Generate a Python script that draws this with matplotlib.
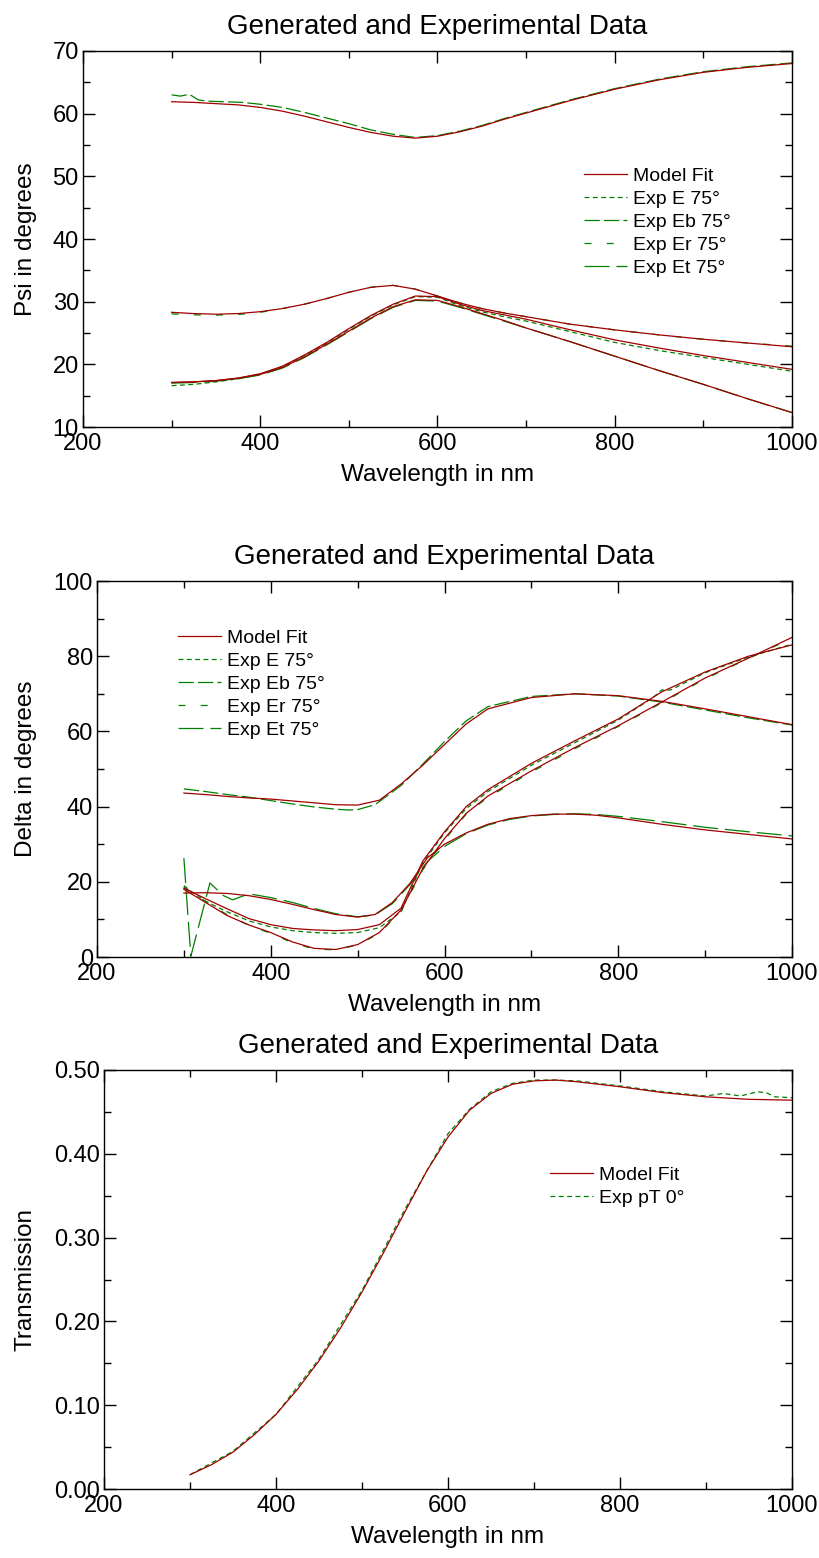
import matplotlib
matplotlib.use("Agg")
import matplotlib.pyplot as plt
from matplotlib.ticker import MultipleLocator, FormatStrFormatter

plt.rcParams["font.family"] = ["Liberation Sans", "DejaVu Sans"]
plt.rcParams["lines.scale_dashes"] = False

# ---- Psi panel ----
wl_psi = [300, 325, 350, 375, 400, 425, 450, 475, 500, 525, 550, 575, 600, 625, 650, 675, 700, 750, 800, 850, 900, 950, 1000]
psi_fit_a = [61.9, 61.8, 61.6, 61.4, 61.0, 60.4, 59.6, 58.7, 57.8, 57.0, 56.4, 56.1, 56.4, 57.1, 58.0, 59.1, 60.1, 62.1, 63.9, 65.4, 66.6, 67.4, 68.0]
psi_fit_b = [28.3, 28.1, 28.0, 28.1, 28.4, 28.9, 29.6, 30.5, 31.5, 32.3, 32.6, 32.0, 30.9, 29.8, 28.9, 28.2, 27.6, 26.4, 25.5, 24.7, 24.0, 23.4, 22.8]
psi_fit_c = [17.1, 17.2, 17.4, 17.8, 18.5, 19.7, 21.5, 23.5, 25.7, 27.8, 29.6, 30.9, 30.8, 29.6, 28.6, 27.9, 27.2, 25.5, 23.9, 22.6, 21.4, 20.3, 19.2]
psi_fit_d = [17.1, 17.2, 17.4, 17.8, 18.4, 19.5, 21.2, 23.2, 25.3, 27.4, 29.2, 30.3, 30.2, 29.2, 28.1, 27.0, 25.8, 23.6, 21.3, 19.0, 16.8, 14.5, 12.3]

wl_psi_exp_a = [300, 310, 320, 330, 340, 360, 380, 400, 425, 450, 475, 500, 525, 550, 575, 600, 625, 650, 675, 700, 750, 800, 850, 900, 950, 1000]
psi_exp_a = [63.0, 62.8, 63.1, 62.2, 62.0, 61.9, 61.8, 61.5, 61.0, 60.2, 59.3, 58.4, 57.4, 56.7, 56.2, 56.5, 57.2, 58.1, 59.2, 60.2, 62.2, 64.0, 65.5, 66.7, 67.5, 68.1]
psi_exp_b = [28.05, 27.9, 27.85, 27.95, 28.3, 28.9, 29.6, 30.5, 31.5, 32.3, 32.6, 32.0, 30.9, 29.8, 28.9, 28.2, 27.6, 26.4, 25.5, 24.7, 24.0, 23.4, 22.9]
psi_exp_c = [16.6, 16.8, 17.2, 17.7, 18.4, 19.6, 21.4, 23.4, 25.6, 27.7, 29.5, 30.8, 30.7, 29.4, 28.4, 27.6, 26.9, 25.2, 23.5, 22.2, 21.1, 20.0, 18.9]
psi_exp_d = [17.0, 17.1, 17.3, 17.7, 18.3, 19.4, 21.1, 23.1, 25.2, 27.3, 29.1, 30.2, 30.1, 29.1, 28.0, 26.9, 25.8, 23.6, 21.3, 19.0, 16.8, 14.5, 12.3]

# ---- Delta panel ----
wl_del = [300, 325, 350, 375, 400, 425, 450, 475, 500, 525, 550, 575, 600, 625, 650, 700, 750, 800, 850, 900, 950, 1000]
del_fit_a = [43.6, 43.2, 42.7, 42.3, 42.0, 41.5, 41.0, 40.5, 40.4, 41.7, 46.0, 51.0, 56.5, 62.0, 66.0, 69.0, 70.0, 69.5, 68.0, 66.0, 63.9, 61.8]
del_fit_c = [18.3, 15.5, 12.8, 10.2, 8.6, 7.6, 7.2, 7.0, 7.3, 8.6, 13.0, 25.5, 33.3, 40.0, 44.5, 51.5, 57.5, 63.3, 70.5, 75.8, 80.0, 83.0]
del_fit_d = [18.0, 14.5, 11.0, 8.5, 6.5, 4.0, 2.3, 2.0, 3.3, 6.5, 12.5, 23.5, 31.5, 38.2, 42.8, 49.5, 55.7, 61.5, 67.8, 74.2, 79.5, 85.0]
wl_del_b = [300, 325, 350, 375, 400, 425, 450, 475, 500, 520, 540, 560, 580, 600, 625, 650, 675, 700, 725, 750, 775, 800, 850, 900, 950, 1000]
del_fit_b = [17.0, 17.1, 16.9, 16.3, 15.3, 14.0, 12.6, 11.3, 10.6, 11.3, 14.5, 19.5, 26.3, 30.0, 33.0, 35.3, 36.8, 37.6, 38.0, 38.0, 37.7, 37.0, 35.3, 33.8, 32.6, 31.4]

wl_del_exp_a = [300, 325, 350, 375, 400, 425, 450, 475, 490, 500, 520, 550, 575, 600, 625, 650, 700, 750, 800, 850, 900, 950, 1000]
del_exp_a = [44.7, 44.0, 43.2, 42.5, 41.6, 40.7, 39.9, 39.3, 39.1, 39.2, 40.5, 45.6, 51.3, 57.3, 62.8, 66.6, 69.3, 70.0, 69.4, 67.8, 65.7, 63.6, 61.7]
wl_del_exp_b = [300, 308, 330, 345, 356, 375, 400, 425, 450, 475, 500, 520, 540, 560, 580, 600, 625, 650, 675, 700, 725, 750, 775, 800, 850, 900, 950, 1000]
del_exp_b = [26.3, 0.2, 19.7, 16.4, 15.2, 16.8, 15.8, 14.5, 12.9, 11.5, 10.7, 11.2, 14.2, 19.2, 25.3, 29.4, 32.8, 35.1, 36.6, 37.5, 37.9, 38.1, 37.9, 37.4, 36.0, 34.5, 33.3, 32.2]
wl_del_exp_c = [300, 310, 325, 350, 375, 400, 425, 450, 475, 500, 525, 550, 575, 600, 625, 650, 700, 750, 800, 840, 850, 860, 900, 950, 1000]
del_exp_c = [19.0, 17.2, 14.8, 12.0, 9.6, 8.0, 7.0, 6.5, 6.3, 6.5, 7.8, 12.0, 25.0, 33.0, 39.5, 44.0, 51.0, 57.0, 63.0, 69.0, 71.0, 71.0, 75.6, 79.8, 83.2]
del_exp_d = [18.6, 14.8, 11.2, 8.4, 6.3, 3.8, 2.1, 1.9, 3.2, 6.3, 12.2, 23.2, 31.2, 38.0, 42.5, 49.2, 55.4, 61.3, 67.6, 74.0, 79.4, 84.8]

# ---- Transmission panel ----
wl_tr = [300, 325, 350, 375, 400, 425, 450, 475, 500, 525, 550, 575, 600, 625, 650, 675, 700, 725, 750, 800, 850, 900, 950, 1000]
tr_fit = [0.017, 0.029, 0.044, 0.065, 0.089, 0.119, 0.153, 0.192, 0.235, 0.282, 0.331, 0.379, 0.420, 0.452, 0.472, 0.483, 0.487, 0.488, 0.486, 0.480, 0.473, 0.468, 0.465, 0.464]
wl_tr_exp = [300, 350, 400, 450, 500, 550, 600, 625, 650, 675, 700, 725, 750, 800, 850, 900, 920, 940, 960, 970, 980, 1000]
tr_exp = [0.017, 0.045, 0.089, 0.155, 0.237, 0.334, 0.424, 0.453, 0.474, 0.484, 0.488, 0.488, 0.487, 0.481, 0.474, 0.469, 0.472, 0.469, 0.474, 0.473, 0.468, 0.467]

RED = "#a00000"
GREEN = "#008000"
LW = 0.9
dash = {
    "Exp E 75°": (3.5, 2.5),
    "Exp Eb 75°": (11, 3),
    "Exp Er 75°": (5, 11),
    "Exp Et 75°": (18, 5),
}

W, H = 820, 1558
fig = plt.figure(figsize=(W / 100, H / 100), dpi=100)


def make_ax(left, top, right, bottom):
    return fig.add_axes([left / W, 1 - bottom / H, (right - left) / W, (bottom - top) / H])


def style(ax, left_px, width_px, ylab):
    ax.set_xlim(200, 1000)
    ax.xaxis.set_major_locator(MultipleLocator(200))
    ax.xaxis.set_minor_locator(MultipleLocator(100))
    ax.tick_params(which="both", direction="in", top=True, right=True, width=1.0, labelsize=17)
    ax.tick_params(which="major", length=8.5)
    ax.tick_params(which="minor", length=5)
    ax.tick_params(axis="x", pad=4)
    ax.tick_params(axis="y", pad=3)
    for s in ax.spines.values():
        s.set_linewidth(1.0)
    ax.set_title("Generated and Experimental Data", fontsize=20, pad=12)
    ax.set_xlabel("Wavelength in nm", fontsize=17.5, labelpad=7)
    ax.set_ylabel(ylab, fontsize=17.5)
    ax.yaxis.set_label_coords((37 - left_px) / width_px, 0.5)


def legend(ax, handles, x_px, y_px):
    ax.legend(handles=handles, loc="upper left", bbox_to_anchor=(x_px / W, 1 - y_px / H),
              bbox_transform=fig.transFigure, frameon=False, fontsize=14, borderpad=0,
              borderaxespad=0, labelspacing=0.28, handlelength=2.2, handletextpad=0.3)


# Psi
ax1 = make_ax(83, 51, 792, 427)
exp_lines = []
for lab, x, y in [("Exp E 75°", wl_psi, psi_exp_c), ("Exp Eb 75°", wl_psi_exp_a, psi_exp_a),
                  ("Exp Er 75°", wl_psi, psi_exp_b), ("Exp Et 75°", wl_psi, psi_exp_d)]:
    ln, = ax1.plot(x, y, color=GREEN, lw=LW, dashes=dash[lab], label=lab)
    exp_lines.append(ln)
fit_line = None
for y in [psi_fit_a, psi_fit_b, psi_fit_c, psi_fit_d]:
    fit_line, = ax1.plot(wl_psi, y, color=RED, lw=LW, label="Model Fit")
ax1.set_ylim(10, 70)
ax1.yaxis.set_major_locator(MultipleLocator(10))
ax1.yaxis.set_minor_locator(MultipleLocator(5))
style(ax1, 83, 709, "Psi in degrees")
legend(ax1, [fit_line] + exp_lines, 584, 167)

# Delta
ax2 = make_ax(97, 581, 792, 957)
exp_lines = []
for lab, x, y in [("Exp E 75°", wl_del_exp_c, del_exp_c), ("Exp Eb 75°", wl_del_exp_a, del_exp_a),
                  ("Exp Er 75°", wl_del, del_exp_d), ("Exp Et 75°", wl_del_exp_b, del_exp_b)]:
    ln, = ax2.plot(x, y, color=GREEN, lw=LW, dashes=dash[lab], label=lab)
    exp_lines.append(ln)
for x, y in [(wl_del, del_fit_a), (wl_del_b, del_fit_b), (wl_del, del_fit_c), (wl_del, del_fit_d)]:
    fit_line, = ax2.plot(x, y, color=RED, lw=LW, label="Model Fit")
ax2.set_ylim(0, 100)
ax2.yaxis.set_major_locator(MultipleLocator(20))
ax2.yaxis.set_minor_locator(MultipleLocator(10))
style(ax2, 97, 695, "Delta in degrees")
legend(ax2, [fit_line] + exp_lines, 178, 629)

# Transmission
ax3 = make_ax(104, 1070, 792, 1489)
ln_exp, = ax3.plot(wl_tr_exp, tr_exp, color=GREEN, lw=LW, dashes=(3.5, 2.5), label="Exp pT 0°")
fit_line, = ax3.plot(wl_tr, tr_fit, color=RED, lw=LW, label="Model Fit")
ax3.set_ylim(0, 0.5)
ax3.yaxis.set_major_locator(MultipleLocator(0.1))
ax3.yaxis.set_minor_locator(MultipleLocator(0.05))
ax3.yaxis.set_major_formatter(FormatStrFormatter("%.2f"))
style(ax3, 104, 688, "Transmission")
legend(ax3, [fit_line, ln_exp], 550, 1166)

fig.savefig("out.png", dpi=100)
